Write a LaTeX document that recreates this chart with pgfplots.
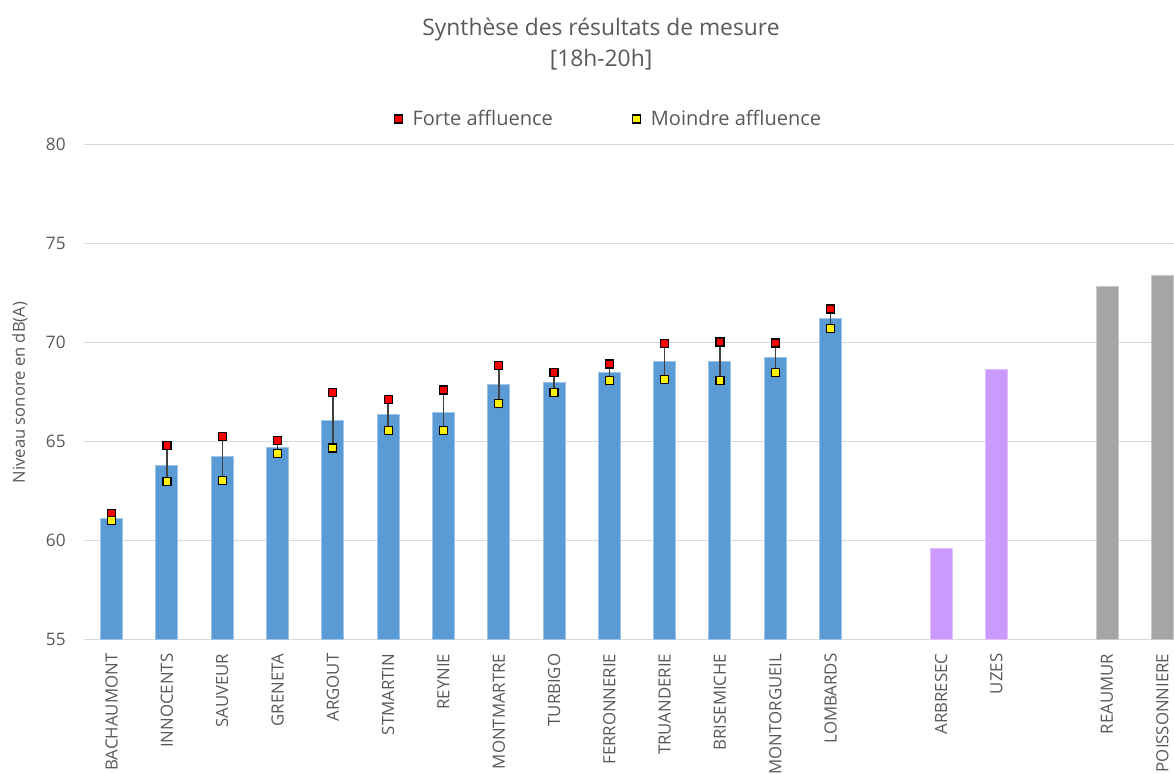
\documentclass[border=0pt]{standalone}
\usepackage{pgfplots}
\pgfplotsset{compat=1.18}
\usepackage{pgfplotstable}
\usepackage{fontspec}
\setmainfont{Open Sans}
\definecolor{txt}{HTML}{595959}
\definecolor{gridc}{HTML}{D9D9D9}
\definecolor{bluec}{HTML}{5B9BD5}
\definecolor{purplec}{HTML}{CC99FF}
\definecolor{grayc}{HTML}{A5A5A5}
\definecolor{errc}{HTML}{404040}

\pgfplotstableread{
x bar hi lo
0 61.13 61.35 61.02
1 63.78 64.79 62.99
2 64.22 65.24 63.04
3 64.71 65.04 64.40
4 66.07 67.49 64.67
5 66.36 67.13 65.57
6 66.48 67.60 65.57
7 67.87 68.82 66.90
8 67.96 68.50 67.49
9 68.50 68.92 68.09
10 69.02 69.94 68.14
11 69.05 70.03 68.09
12 69.26 69.98 68.50
13 71.21 71.70 70.70
}\bluedata

\pgfplotstableread{
x bar
15 59.60
16 68.63
}\purpledata

\pgfplotstableread{
x bar
18 72.85
19 73.38
}\graydata

\begin{document}
\begin{tikzpicture}
\path[use as bounding box] (-42pt,-66.85pt) rectangle (545pt,319.65pt);
\begin{axis}[
  at={(0pt,0pt)}, anchor=south west,
  scale only axis, width=553pt, height=247.3pt,
  xmin=-0.5, xmax=19.5, ymin=55, ymax=80,
  ytick={55,60,...,80},
  xtick={0,1,2,3,4,5,6,7,8,9,10,11,12,13,15,16,18,19},
  xticklabels={BACHAUMONT,INNOCENTS,SAUVEUR,GRENETA,ARGOUT,STMARTIN,REYNIE,MONTMARTRE,TURBIGO,FERRONNERIE,TRUANDERIE,BRISEMICHE,MONTORGUEIL,LOMBARDS,ARBRESEC,UZES,REAUMUR,POISSONNIERE},
  axis line style={draw=none},
  major tick length=0pt,
  ymajorgrids,
  grid style={color=gridc, line width=0.75pt},
  /pgf/number format/assume math mode=true,
  yticklabel style={font=\fontsize{8.6}{10}\selectfont, text=txt, inner sep=0pt, anchor=east},
  yticklabel shift=9pt,
  xticklabel style={font=\fontsize{8.4}{10}\selectfont, text=txt, rotate=90, anchor=east, inner sep=0pt},
  xticklabel shift=7pt,
  legend style={draw=none, fill=none, inner sep=0pt, at={(axis description cs:0.2803,1.052)}, anchor=west,
    font=\fontsize{10}{12}\selectfont, text=txt,
    /tikz/every even column/.append style={column sep=38pt}},
  legend columns=2,
  legend cell align=left,
  legend image code/.code={\draw[#1] plot coordinates {(0pt,0pt)}; \path (4.85pt,0pt);},
]
\addplot[ybar, bar width=11pt, bar shift=0pt, fill=bluec, draw=bluec!60!white, line width=0.5pt, forget plot] table[x=x,y=bar]{\bluedata};
\addplot[ybar, bar width=11pt, bar shift=0pt, fill=purplec, draw=purplec!60!white, line width=0.5pt, forget plot] table[x=x,y=bar]{\purpledata};
\addplot[ybar, bar width=11pt, bar shift=0pt, fill=grayc, draw=grayc!60!white, line width=0.5pt, forget plot] table[x=x,y=bar]{\graydata};
\addplot[forget plot, only marks, mark=none,
  error bars/.cd, y dir=plus, y explicit, error mark=none,
  error bar style={draw=errc, line width=0.75pt}]
  table[x=x, y=lo, y error expr=\thisrow{hi}-\thisrow{lo}]{\bluedata};
\addplot[only marks, mark=square*, mark size=2pt, mark options={fill=red, draw=black, line width=0.6pt}] table[x=x,y=hi]{\bluedata};
\addlegendentry{Forte affluence}
\addplot[only marks, mark=square*, mark size=2pt, mark options={fill=yellow, draw=black, line width=0.6pt}] table[x=x,y=lo]{\bluedata};
\addlegendentry{Moindre affluence}
\end{axis}
\node[anchor=base, text=txt, font=\fontsize{11.4}{14}\selectfont] at (258.5pt,302.15pt) {Synthèse des résultats de mesure};
\node[anchor=base, text=txt, font=\fontsize{11.4}{14}\selectfont] at (258.5pt,286.4pt) {[18h-20h]};
\node[rotate=90, text=txt, font=\fontsize{8.3}{10}\selectfont] at (-32pt,123.4pt) {Niveau sonore en dB(A)};
\end{tikzpicture}
\end{document}
